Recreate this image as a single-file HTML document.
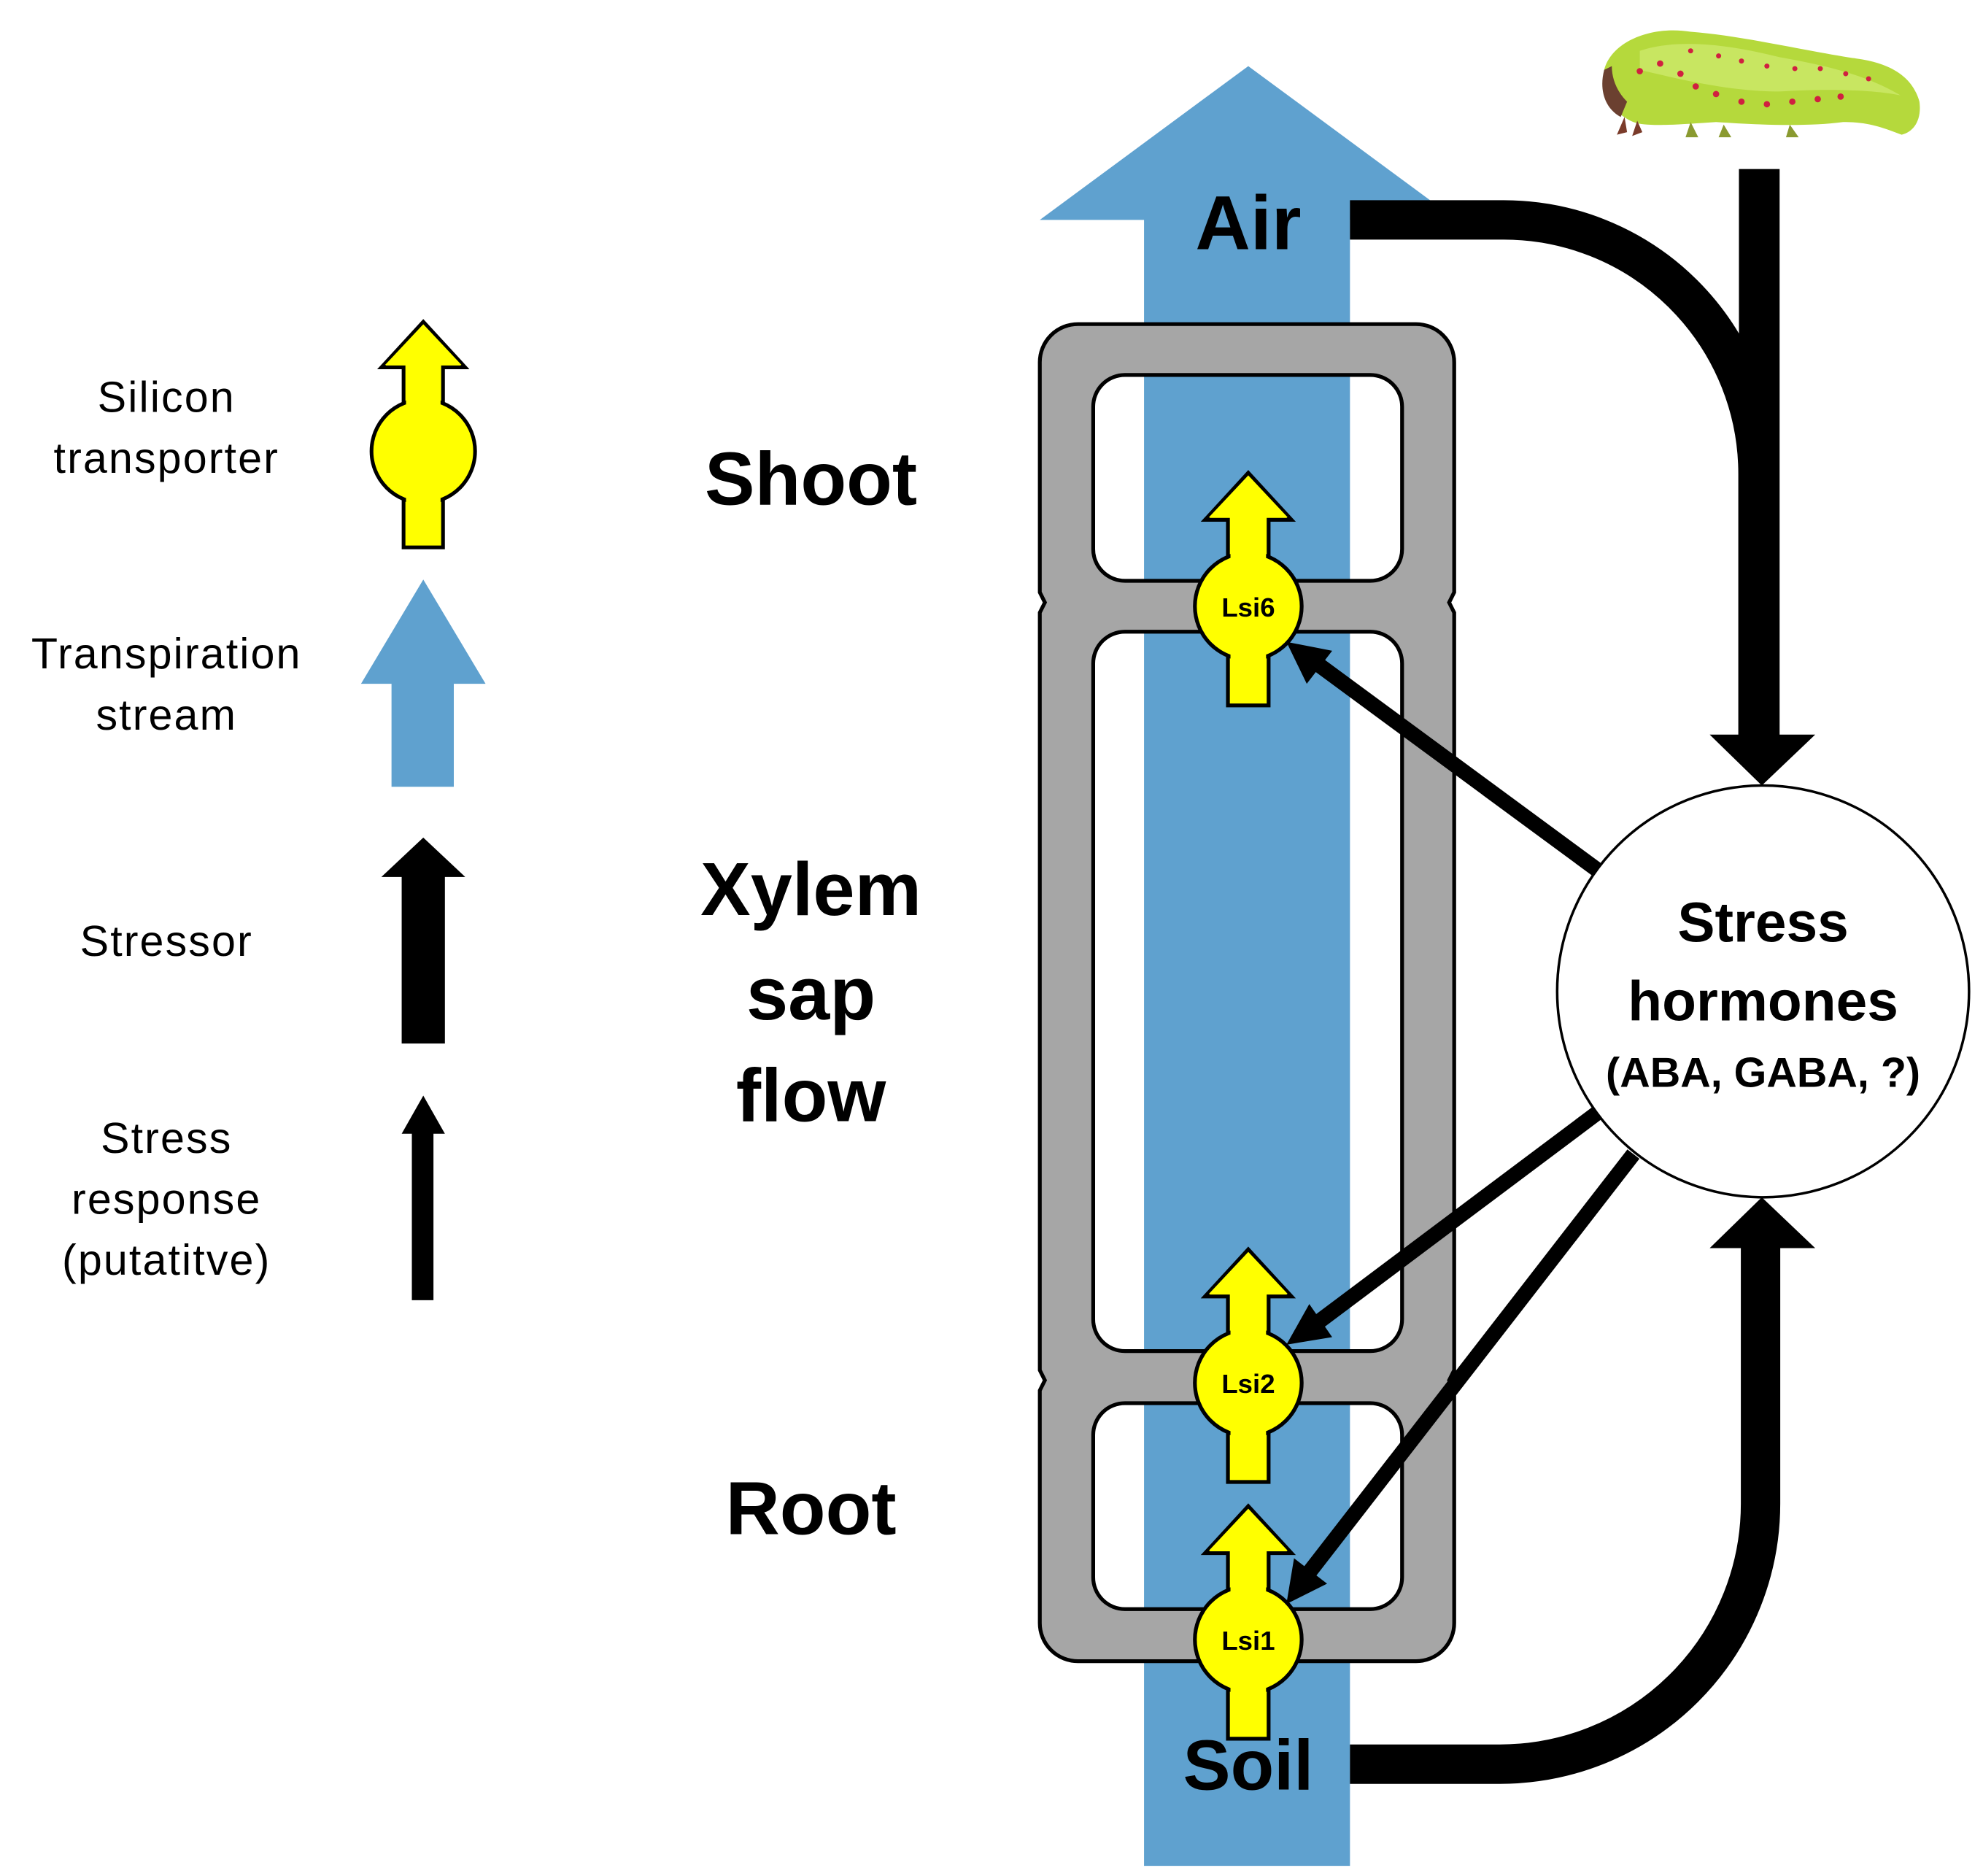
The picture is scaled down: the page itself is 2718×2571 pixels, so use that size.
<!DOCTYPE html>
<html><head><meta charset="utf-8"><style>
html,body{margin:0;padding:0;background:#fff;}
svg{display:block;}
text{font-family:"Liberation Sans",sans-serif;}
</style></head><body>
<svg width="2718" height="2571" viewBox="0 0 1560 1476" preserveAspectRatio="none" xmlns="http://www.w3.org/2000/svg">
<defs>
<g id="tp">
  <path d="M0,-105 L34,-68 L16,-68 L16,78 L-16,78 L-16,-68 L-34,-68 Z" fill="#ffff00" stroke="#000" stroke-width="3"/>
  <circle cx="0" cy="0" r="42" fill="#ffff00" stroke="#000" stroke-width="3"/>
  <path d="M0,-103 L31,-70 L14,-70 L14,76 L-14,76 L-14,-70 L-31,-70 Z" fill="#ffff00"/>
  <circle cx="0" cy="0" r="40" fill="#ffff00"/>
</g>
</defs>

<!-- Legend -->
<g font-size="34" letter-spacing="1.2" text-anchor="middle" fill="#000">
<text x="131" y="324">Silicon</text>
<text x="131" y="372">transporter</text>
<text x="131" y="526">Transpiration</text>
<text x="131" y="574">stream</text>
<text x="131" y="752">Stressor</text>
<text x="131" y="907">Stress</text>
<text x="131" y="955">response</text>
<text x="131" y="1003">(putatitve)</text>
</g>
<g transform="translate(333,355) scale(0.97)"><use href="#tp"/></g>
<path d="M333,456 L382,538 L357,538 L357,619 L308,619 L308,538 L284,538 Z" fill="#5fa1cf"/>
<path d="M333,659 L366,690 L350,690 L350,821 L316,821 L316,690 L300,690 Z" fill="#000"/>
<path d="M333,862 L350,892 L341,892 L341,1023 L324,1023 L324,892 L316,892 Z" fill="#000"/>

<g font-size="59" font-weight="bold" text-anchor="middle" fill="#000">
<text x="638" y="397">Shoot</text>
<text x="638" y="720">Xylem</text>
<text x="638" y="802">sap</text>
<text x="638" y="882">flow</text>
<text x="638" y="1207">Root</text>
</g>

<!-- Blue arrow -->
<path d="M982,52 L1146,173 L1062,173 L1062,1468 L900,1468 L900,173 L818,173 Z" fill="#5fa1cf"/>

<!-- Gray frame -->
<path fill-rule="evenodd" fill="#a6a6a6" stroke="#000" stroke-width="3" d="
M848,255 H1114 A30,30 0 0 1 1144,285 V466 L1140,474 L1144,482 V1078 L1140,1086 L1144,1094 V1277 A30,30 0 0 1 1114,1307 H848 A30,30 0 0 1 818,1277 V1094 L822,1086 L818,1078 V482 L822,474 L818,466 V285 A30,30 0 0 1 848,255 Z
M885,295 H1078 A25,25 0 0 1 1103,320 V432 A25,25 0 0 1 1078,457 H885 A25,25 0 0 1 860,432 V320 A25,25 0 0 1 885,295 Z
M885,497 H1078 A25,25 0 0 1 1103,522 V1038 A25,25 0 0 1 1078,1063 H885 A25,25 0 0 1 860,1038 V522 A25,25 0 0 1 885,497 Z
M885,1104 H1078 A25,25 0 0 1 1103,1129 V1241 A25,25 0 0 1 1078,1266 H885 A25,25 0 0 1 860,1241 V1129 A25,25 0 0 1 885,1104 Z"/>

<text x="982" y="196" font-size="60" font-weight="bold" text-anchor="middle">Air</text>
<text x="982" y="1408" font-size="56" font-weight="bold" text-anchor="middle">Soil</text>

<!-- Transporters -->
<g transform="translate(982,477)"><use href="#tp"/></g>
<g transform="translate(982,1088)"><use href="#tp"/></g>
<g transform="translate(982,1290)"><use href="#tp"/></g>
<g font-size="21" font-weight="bold" text-anchor="middle">
<text x="982" y="485">Lsi6</text>
<text x="982" y="1096">Lsi2</text>
<text x="982" y="1298">Lsi1</text>
</g>

<!-- Air connector and caterpillar arrow -->
<path d="M1062,173 H1183 A200,200 0 0 1 1383,373 V585" fill="none" stroke="#000" stroke-width="31"/>
<rect x="1368" y="133" width="32" height="450" fill="#000"/>
<path d="M1345,578 L1428,578 L1386,618 Z" fill="#000"/>

<!-- Soil connector -->
<path d="M1062,1388 H1180 A205,205 0 0 0 1385,1183 V975" fill="none" stroke="#000" stroke-width="31"/>
<path d="M1345,982 L1428,982 L1386,942 Z" fill="#000"/>

<!-- Circle -->
<circle cx="1387" cy="780" r="162" fill="#fff" stroke="#000" stroke-width="2"/>
<g font-weight="bold" text-anchor="middle">
<text x="1387" y="741" font-size="44">Stress</text>
<text x="1387" y="803" font-size="44">hormones</text>
<text x="1387" y="855" font-size="33">(ABA, GABA, ?)</text>
</g>

<!-- Response arrows -->
<g stroke="#000" stroke-width="12" fill="none">
<line x1="1256" y1="684" x2="1036" y2="522"/>
<line x1="1256" y1="876" x2="1036" y2="1041"/>
<line x1="1285" y1="908" x2="1030" y2="1237"/>
</g>
<path d="M1012,505 L1048,512 L1028,538 Z" fill="#000"/>
<path d="M1012,1058 L1030,1026 L1048,1052 Z" fill="#000"/>
<path d="M1012,1262 L1018,1226 L1044,1246 Z" fill="#000"/>

<!-- Caterpillar -->
<g>
<path d="M1262,55 C1268,32 1300,20 1330,25 C1370,28 1420,40 1460,46 C1490,50 1505,62 1510,80 C1512,95 1505,104 1496,106 C1480,100 1470,96 1450,96 C1420,100 1380,98 1350,96 C1320,98 1295,100 1285,96 C1270,90 1260,75 1262,55 Z" fill="#b5d93c"/>
<path d="M1290,40 C1320,30 1360,35 1400,45 C1440,52 1470,60 1495,75 C1470,70 1430,70 1400,72 C1360,72 1320,62 1290,55 Z" fill="#cde86a" opacity="0.8"/>
<path d="M1262,55 C1258,70 1262,85 1275,92 L1280,80 C1272,72 1268,62 1268,52 Z" fill="#6b4030"/>
<path d="M1278,92 l-6,14 l8,-2 Z M1288,95 l-4,12 l8,-3 Z" fill="#7a3b2a"/>
<path d="M1330,96 l-4,12 l10,0 Z M1356,98 l-4,10 l10,0 Z M1408,98 l-3,10 l10,0 Z" fill="#8a9a30"/>
<g fill="#d02040">
<circle cx="1290" cy="56" r="2.5"/><circle cx="1306" cy="50" r="2.5"/><circle cx="1322" cy="58" r="2.5"/>
<circle cx="1334" cy="68" r="2.5"/><circle cx="1350" cy="74" r="2.5"/><circle cx="1370" cy="80" r="2.5"/>
<circle cx="1390" cy="82" r="2.5"/><circle cx="1410" cy="80" r="2.5"/><circle cx="1430" cy="78" r="2.5"/>
<circle cx="1448" cy="76" r="2.5"/><circle cx="1330" cy="40" r="2"/><circle cx="1352" cy="44" r="2"/>
<circle cx="1370" cy="48" r="2"/><circle cx="1390" cy="52" r="2"/><circle cx="1412" cy="54" r="2"/>
<circle cx="1432" cy="54" r="2"/><circle cx="1452" cy="58" r="2"/><circle cx="1470" cy="62" r="2"/>
</g>
</g>
</svg>
</body></html>
